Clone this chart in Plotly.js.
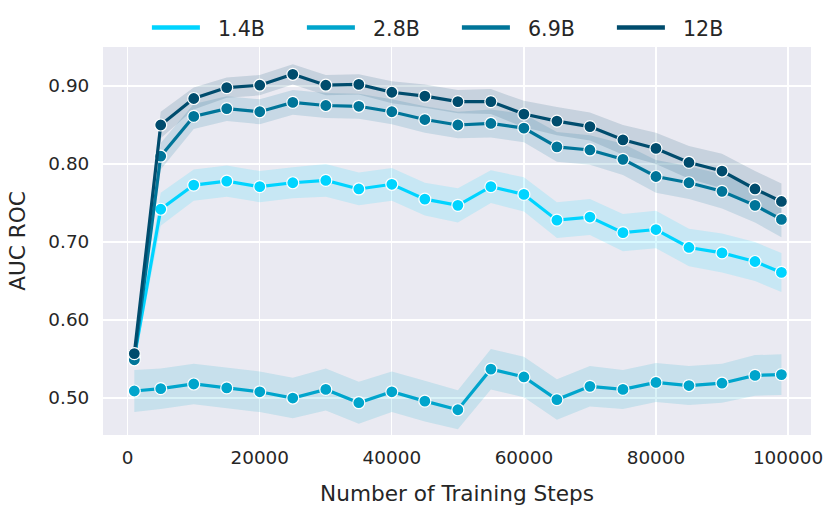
<!DOCTYPE html>
<html>
<head>
<meta charset="utf-8">
<script src="https://cdn.plot.ly/plotly-3.0.1.min.js"></script>
<style>html,body{margin:0;padding:0;background:#fff}#chart{width:831px;height:515px}</style>
</head>
<body>
<div id="chart"></div>
<script>
// Training steps (x)
const steps = [1000, 5000, 10000, 15000, 20000, 25000, 30000, 35000, 40000, 45000, 50000,
               55000, 60000, 65000, 70000, 75000, 80000, 85000, 90000, 95000, 99000];
// Series names
const seriesNames = ["1.4B", "2.8B", "6.9B", "12B"];
// Mean AUC ROC per model
const auc14 = [0.552, 0.742, 0.773, 0.778, 0.771, 0.776, 0.779, 0.768, 0.774, 0.755, 0.747,
               0.771, 0.761, 0.728, 0.732, 0.712, 0.716, 0.693, 0.686, 0.675, 0.661];
const auc28 = [0.509, 0.512, 0.518, 0.513, 0.508, 0.500, 0.511, 0.494, 0.508, 0.496, 0.485,
               0.537, 0.527, 0.498, 0.515, 0.511, 0.520, 0.516, 0.519, 0.529, 0.530];
const auc69 = [0.549, 0.810, 0.861, 0.871, 0.867, 0.879, 0.875, 0.874, 0.867, 0.857, 0.850,
               0.852, 0.846, 0.822, 0.818, 0.806, 0.784, 0.776, 0.765, 0.747, 0.729];
const auc12 = [0.557, 0.850, 0.884, 0.898, 0.901, 0.915, 0.901, 0.902, 0.892, 0.887, 0.880,
               0.880, 0.864, 0.855, 0.848, 0.831, 0.820, 0.802, 0.791, 0.768, 0.752];
// Confidence band half-widths per model
const ci14 = [0.006, 0.021, 0.020, 0.020, 0.020, 0.020, 0.021, 0.021, 0.021, 0.021, 0.022,
              0.021, 0.022, 0.023, 0.023, 0.024, 0.024, 0.024, 0.025, 0.025, 0.025];
const ci28 = [0.027, 0.026, 0.026, 0.026, 0.026, 0.026, 0.027, 0.027, 0.026, 0.026, 0.025,
              0.026, 0.026, 0.026, 0.026, 0.025, 0.025, 0.025, 0.025, 0.026, 0.026];
const ci69 = [0.006, 0.017, 0.016, 0.016, 0.016, 0.016, 0.016, 0.016, 0.016, 0.017, 0.017,
              0.018, 0.018, 0.019, 0.019, 0.020, 0.021, 0.021, 0.022, 0.022, 0.023];
const ci12 = [0.006, 0.017, 0.014, 0.013, 0.013, 0.013, 0.013, 0.013, 0.014, 0.015, 0.015,
              0.016, 0.017, 0.018, 0.018, 0.019, 0.020, 0.021, 0.022, 0.023, 0.023];
// Tick values
const xTicks = [0, 20000, 40000, 60000, 80000, 100000];
const yTicks = [0.5, 0.6, 0.7, 0.8, 0.9];

const colors = ["#00d4ff", "#00a5cc", "#007599", "#004c6d"];
const means = [auc14, auc28, auc69, auc12];
const cis = [ci14, ci28, ci69, ci12];

function hexToRgba(hex, a) {
  const r = parseInt(hex.slice(1,3),16), g = parseInt(hex.slice(3,5),16), b = parseInt(hex.slice(5,7),16);
  return `rgba(${r},${g},${b},${a})`;
}

const traces = [];
seriesNames.forEach((name, i) => {
  const up = means[i].map((v, k) => v + cis[i][k]);
  const lo = means[i].map((v, k) => v - cis[i][k]);
  traces.push({
    x: steps.concat(steps.slice().reverse()),
    y: up.concat(lo.slice().reverse()),
    type: "scatter", mode: "lines", fill: "toself",
    fillcolor: hexToRgba(colors[i], 0.15),
    line: {width: 0, color: "rgba(0,0,0,0)"},
    hoverinfo: "skip", showlegend: false
  });
});
seriesNames.forEach((name, i) => {
  traces.push({
    x: steps, y: means[i], type: "scatter", mode: "lines+markers",
    line: {color: colors[i], width: 3.2},
    marker: {color: colors[i], size: 12, line: {color: "#ffffff", width: 1.2}},
    name: name, showlegend: false
  });
});
seriesNames.forEach((name, i) => {
  traces.push({
    x: [null], y: [null], type: "scatter", mode: "lines",
    line: {color: colors[i], width: 4.5}, name: "\u00a0\u00a0" + name, showlegend: true
  });
});

const FAM = "DejaVu Sans, sans-serif";
const font = {family: FAM, color: "#262626"};
const layout = {
  width: 831, height: 515,
  margin: {l: 103, r: 20, t: 47, b: 80, autoexpand: false},
  paper_bgcolor: "#ffffff", plot_bgcolor: "#eaeaf2",
  font: Object.assign({size: 18}, font),
  showlegend: true,
  legend: {
    orientation: "h", x: 0.062, xanchor: "left", y: 1.05, yanchor: "middle",
    font: Object.assign({size: 20.6}, font),
    itemwidth: 48,
    entrywidth: 92, entrywidthmode: "pixels",
    bgcolor: "rgba(0,0,0,0)", traceorder: "normal"
  },
  xaxis: {
    range: [-3740, 103480], tickvals: xTicks, tickformat: "d",
    exponentformat: "none", separatethousands: false,
    showgrid: true, gridcolor: "#ffffff", gridwidth: 1.3, zeroline: false,
    showline: false, ticks: "outside", ticklen: 6, tickcolor: "rgba(0,0,0,0)",
    tickfont: Object.assign({size: 18.4}, font),
    title: {text: "Number of Training Steps", font: Object.assign({size: 21.6}, font), standoff: 18}
  },
  yaxis: {
    range: [0.4526, 0.95], tickvals: yTicks, tickformat: ".2f",
    showgrid: true, gridcolor: "#ffffff", gridwidth: 1.3, zeroline: false,
    showline: false, ticks: "outside", ticklen: 9, tickcolor: "rgba(0,0,0,0)",
    tickfont: Object.assign({size: 18.4}, font),
    title: {text: "AUC ROC", font: Object.assign({size: 21.6}, font), standoff: 16}
  }
};

Plotly.newPlot("chart", traces, layout, {displayModeBar: false, staticPlot: true});
</script>
</body>
</html>
